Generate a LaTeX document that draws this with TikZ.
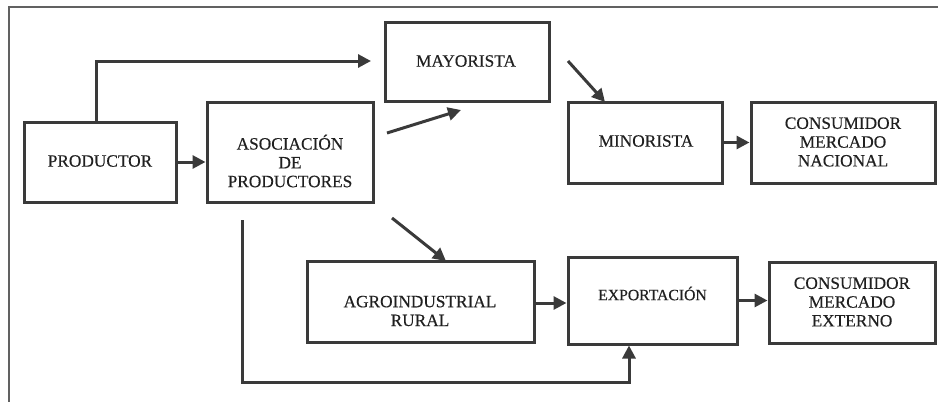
\documentclass[tikz,border=0pt]{standalone}
\usepackage{fontspec}
\setmainfont{Liberation Serif}[FakeBold=0.4]
\usetikzlibrary{arrows.meta}
\definecolor{ink}{HTML}{3A3A3A}
\definecolor{txt}{HTML}{202020}
\begin{document}
\begin{tikzpicture}[x=1pt,y=-1pt,
  box/.style={draw=ink,line width=3pt,minimum width=#1,inner sep=0pt},
  lbl/.style={text=txt,align=center,inner sep=0pt,font=\fontsize{17.3}{18.8}\selectfont},
  flow/.style={draw=ink,line width=3pt,-{Triangle[length=13pt,width=13pt]}},
  frame/.style={draw=ink!80,line width=1.6pt}]
\useasboundingbox (0,0) rectangle (938,402);

% outer frame (top and left edges only)
\draw[frame] (9,402) -- (9,7) -- (938,7);

% boxes
\node[box=152pt,minimum height=80pt]  (prod)  at (100,162)   {};
\node[box=166pt,minimum height=100pt] (asoc)  at (290,152)   {};
\node[box=164pt,minimum height=79pt]  (mayor) at (467,61.5)  {};
\node[box=154pt,minimum height=81pt]  (minor) at (645,142.5) {};
\node[box=184pt,minimum height=81pt]  (nac)   at (843,142.5) {};
\node[box=227pt,minimum height=81pt]  (agro)  at (420.5,301.5) {};
\node[box=169pt,minimum height=87pt]  (expo)  at (652.5,300.5) {};
\node[box=166pt,minimum height=81pt]  (ext)   at (852,302.5) {};

% labels
\node[lbl] (prod-t)  at (100,161)   {PRODUCTOR};
\node[lbl] (asoc-t)  at (290,161)   {ASOCIACIÓN\\DE\\PRODUCTORES};
\node[lbl] (mayor-t) at (466,61)    {MAYORISTA};
\node[lbl] (minor-t) at (646,141)   {MINORISTA};
\node[lbl] (nac-t)   at (843,142)   {CONSUMIDOR\\MERCADO\\NACIONAL};
\node[lbl] (agro-t)  at (420,311)   {AGROINDUSTRIAL\\RURAL};
\node[lbl,font=\fontsize{15.7}{17}\selectfont] (expo-t) at (652.5,293.5) {EXPORTACIÓN};
\node[lbl] (ext-t)   at (852,302)   {CONSUMIDOR\\MERCADO\\EXTERNO};

% free connector ends
\coordinate (up-end)   at (371,61);
\coordinate (as-s)     at (387,133);
\coordinate (as-e)     at (461,110);
\coordinate (my-s)     at (568,61);
\coordinate (my-e)     at (605,102);
\coordinate (ag-s)     at (392,218);
\coordinate (ag-e)     at (446,261);
\coordinate (low-s)    at (242,220);
\coordinate (low-c)    at (242,382);

% connectors
\draw[flow] ([xshift=-4pt]prod.north) |- (up-end);
\draw[flow] (prod.east) -- (prod.east -| asoc.west);
\draw[flow] (as-s) -- (as-e);
\draw[flow] (my-s) -- (my-e);
\draw[flow] (minor.east) -- (nac.west);
\draw[flow] (ag-s) -- (ag-e);
\draw[flow] (low-s) -- (low-c) -| ([xshift=-23.5pt]expo.south);
\draw[flow] ([yshift=-1.5pt]agro.east) -- ([yshift=-1.5pt]agro.east -| expo.west);
\draw[flow] (expo.east) -- (expo.east -| ext.west);
\end{tikzpicture}
\end{document}
